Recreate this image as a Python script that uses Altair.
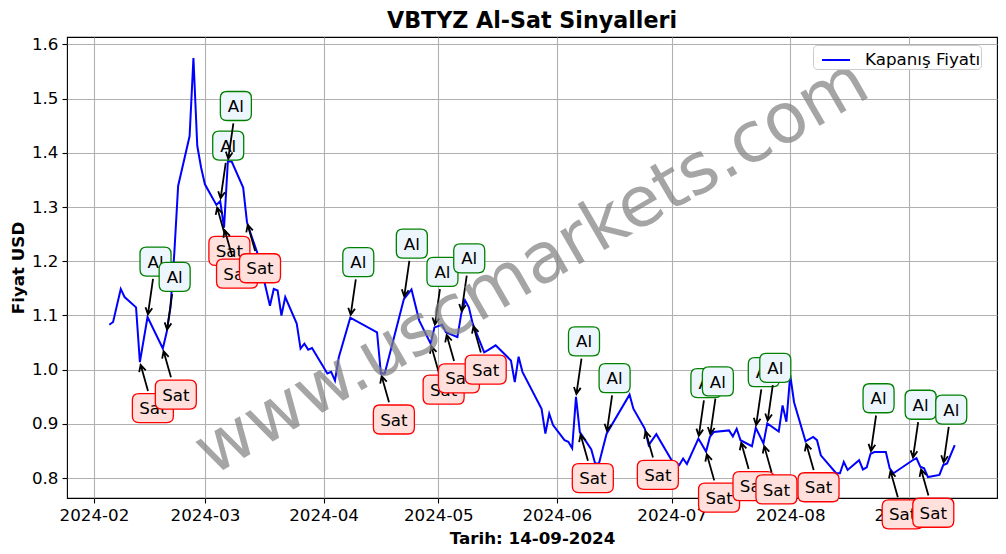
import math
import altair as alt
import pandas as pd

# ---------------- data ----------------
dates = [
    "2024-02-05", "2024-02-06", "2024-02-08", "2024-02-09", "2024-02-12", "2024-02-13",
    "2024-02-15", "2024-02-19", "2024-02-20", "2024-02-21", "2024-02-22", "2024-02-23",
    "2024-02-26", "2024-02-27", "2024-02-28", "2024-02-29",
    "2024-03-01", "2024-03-04", "2024-03-05", "2024-03-06", "2024-03-07", "2024-03-08",
    "2024-03-11", "2024-03-12", "2024-03-13", "2024-03-14", "2024-03-15", "2024-03-18",
    "2024-03-19", "2024-03-20", "2024-03-21", "2024-03-22", "2024-03-25", "2024-03-26",
    "2024-03-27", "2024-03-28", "2024-03-29",
    "2024-04-02", "2024-04-03", "2024-04-04", "2024-04-05", "2024-04-08", "2024-04-15",
    "2024-04-16", "2024-04-17", "2024-04-22", "2024-04-24", "2024-04-26", "2024-04-29",
    "2024-04-30",
    "2024-05-02", "2024-05-03", "2024-05-06", "2024-05-07", "2024-05-08", "2024-05-09",
    "2024-05-10", "2024-05-13", "2024-05-14", "2024-05-16", "2024-05-20", "2024-05-21",
    "2024-05-22", "2024-05-23", "2024-05-28", "2024-05-29", "2024-05-30", "2024-05-31",
    "2024-06-03", "2024-06-04", "2024-06-05", "2024-06-06", "2024-06-07", "2024-06-10",
    "2024-06-11", "2024-06-12", "2024-06-14", "2024-06-20", "2024-06-21", "2024-06-24",
    "2024-06-25", "2024-06-27",
    "2024-07-01", "2024-07-03", "2024-07-04", "2024-07-05", "2024-07-08", "2024-07-10",
    "2024-07-11", "2024-07-12", "2024-07-16", "2024-07-17", "2024-07-18", "2024-07-19",
    "2024-07-22", "2024-07-23", "2024-07-25", "2024-07-26", "2024-07-29", "2024-07-30",
    "2024-07-31",
    "2024-08-01", "2024-08-02", "2024-08-05", "2024-08-07", "2024-08-08", "2024-08-09",
    "2024-08-13", "2024-08-14", "2024-08-15", "2024-08-16", "2024-08-19", "2024-08-20",
    "2024-08-21", "2024-08-22", "2024-08-23", "2024-08-26", "2024-08-27", "2024-08-28",
    "2024-09-02", "2024-09-03", "2024-09-04", "2024-09-05", "2024-09-06", "2024-09-09",
    "2024-09-10", "2024-09-11", "2024-09-13",
]
closes = [
    1.083, 1.088, 1.149, 1.134, 1.115, 1.014,
    1.097, 1.039, 1.069, 1.115, 1.215, 1.339,
    1.431, 1.575, 1.413, 1.373,
    1.342, 1.304, 1.311, 1.262, 1.384, 1.384,
    1.336, 1.272, 1.250, 1.230, 1.209, 1.118,
    1.149, 1.146, 1.100, 1.134, 1.085, 1.039,
    1.048, 1.037, 1.040,
    0.993, 0.996, 0.980, 1.023, 1.096, 1.069,
    0.993, 0.993, 1.130, 1.148, 1.091, 1.048,
    1.078,
    1.083, 1.069, 1.060, 1.103, 1.128, 1.115,
    1.085, 1.032, 1.036, 1.045, 1.017, 0.977,
    1.024, 0.996, 0.928, 0.882, 0.919, 0.898,
    0.870, 0.867, 0.855, 0.950, 0.885, 0.853,
    0.827, 0.827, 0.882, 0.954, 0.928, 0.891,
    0.861, 0.881,
    0.833, 0.824, 0.836, 0.826, 0.873, 0.849,
    0.876, 0.885, 0.888, 0.877, 0.891, 0.870,
    0.859, 0.893, 0.864, 0.901, 0.886, 0.934,
    0.904,
    0.990, 0.940, 0.868, 0.876, 0.870, 0.842,
    0.809, 0.809, 0.830, 0.815, 0.833, 0.816,
    0.820, 0.845, 0.848, 0.848, 0.818, 0.809,
    0.833, 0.837, 0.821, 0.818, 0.802, 0.806,
    0.824, 0.827, 0.861,
]
assert len(dates) == len(closes)

al_dates = [
    "2024-02-15", "2024-02-20", "2024-03-05", "2024-03-07", "2024-04-08", "2024-04-22",
    "2024-04-30", "2024-05-07", "2024-06-06", "2024-06-14", "2024-07-08", "2024-07-11",
    "2024-07-23", "2024-07-26", "2024-08-22", "2024-09-02", "2024-09-10",
]
sat_dates = [
    "2024-02-13", "2024-02-19", "2024-03-04", "2024-03-06", "2024-03-12", "2024-04-16",
    "2024-04-29", "2024-05-03", "2024-05-10", "2024-06-07", "2024-06-24", "2024-07-10",
    "2024-07-19", "2024-07-25", "2024-08-05", "2024-08-27", "2024-09-04",
]

x_tick_dates = ["2024-02-01", "2024-03-01", "2024-04-01", "2024-05-01",
                "2024-06-01", "2024-07-01", "2024-08-01", "2024-09-01"]
y_ticks = [0.8, 0.9, 1.0, 1.1, 1.2, 1.3, 1.4, 1.5, 1.6]

title_text = ["VBTYZ Al-Sat Sinyalleri"]
x_title = "Tarih: 14-09-2024"
y_title = "Fiyat USD"
series_name = "Kapanış Fiyatı"
watermark = ["www.uscmarkets.com"]

# ---------------- tables ----------------
price = pd.DataFrame({"date": dates, "close": closes, "series": series_name})
lookup = dict(zip(dates, closes))
rows = [(d, lookup[d], "Al") for d in al_dates] + [(d, lookup[d], "Sat") for d in sat_dates]
sig = pd.DataFrame(rows, columns=["date", "close", "kind"]).sort_values("date").reset_index(drop=True)
sig["idx"] = range(len(sig))


def ms(s):
    return int(pd.Timestamp(s).value // 10**6)


# matplotlib-like 5% margins
t0, t1 = ms(min(dates)), ms(max(dates))
span = t1 - t0
x_dom = [t0 - 0.05 * span, t1 + 0.05 * span]
v0, v1 = min(closes), max(closes)
vspan = v1 - v0
y_dom = [v0 - 0.05 * vspan, v1 + 0.05 * vspan]

FONT = "DejaVu Sans"
FS = 16.7

xscale = alt.Scale(type="utc", domain=x_dom, nice=False)
yscale = alt.Scale(domain=y_dom, zero=False, nice=False)
xaxis = alt.Axis(values=[ms(d) for d in x_tick_dates],
                 labelExpr="utcFormat(datum.value, '%Y-%m')",
                 title=x_title, titleX=465, titleY=45, titleAlign="center",
                 titleBaseline="alphabetic", labelFlush=False, labelOverlap=False,
                 labelPadding=4)
yaxis = alt.Axis(values=y_ticks, format=".1f", title=y_title, titleX=-44, titleY=230.5,
                 titleAngle=270, titleAlign="center", titleBaseline="alphabetic",
                 labelPadding=4, labelOverlap=False)
X = alt.X("date:T", scale=xscale, axis=xaxis)
Y = alt.Y("close:Q", scale=yscale, axis=yaxis)

# ---------------- annotation geometry (pixel offsets from the point) ----------------
STYLE = {
    "Al": dict(cx=8.0, cy=-55.5, w=31.0, h=29.0, fill="#eef6fd", edge="green"),
    "Sat": dict(cx=13.0, cy=46.0, w=41.0, h=29.0, fill="#ffe0dc", edge="red"),
}


def f(v):
    return f"{v:.2f}"


def box_path(cx, cy, w, h, r=6.5):
    x0, x1, y0, y1 = cx - w / 2, cx + w / 2, cy - h / 2, cy + h / 2
    return (f"M{f(x0 + r)},{f(y0)} L{f(x1 - r)},{f(y0)} Q{f(x1)},{f(y0)} {f(x1)},{f(y0 + r)} "
            f"L{f(x1)},{f(y1 - r)} Q{f(x1)},{f(y1)} {f(x1 - r)},{f(y1)} "
            f"L{f(x0 + r)},{f(y1)} Q{f(x0)},{f(y1)} {f(x0)},{f(y1 - r)} "
            f"L{f(x0)},{f(y0 + r)} Q{f(x0)},{f(y0)} {f(x0 + r)},{f(y0)} Z")


def arrow_path(cx, cy, h, shrink=2.8, hl=6.7, hw=3.4):
    L = math.hypot(cx, cy)
    ux, uy = -cx / L, -cy / L
    t = (h / 2) / abs(uy)
    sx, sy = cx + ux * (t + shrink), cy + uy * (t + shrink)
    ex, ey = -ux * shrink, -uy * shrink
    bx, by = ex - ux * hl, ey - uy * hl
    px, py = -uy, ux
    w1 = (bx + px * hw, by + py * hw)
    w2 = (bx - px * hw, by - py * hw)
    return (f"M{f(sx)},{f(sy)} L{f(ex)},{f(ey)} "
            f"M{f(w1[0])},{f(w1[1])} L{f(ex)},{f(ey)} L{f(w2[0])},{f(w2[1])}")


# ---------------- layers ----------------
line = alt.Chart(price).mark_line(strokeWidth=2, clip=False).encode(
    x=X, y=Y,
    color=alt.Color("series:N", scale=alt.Scale(range=["#0000ff"]),
                    legend=alt.Legend(title=None, orient="none", legendX=746, legendY=8,
                                      symbolType="stroke", symbolSize=784, symbolStrokeWidth=2,
                                      symbolOffset=8, columnPadding=0,
                                      labelFont=FONT, labelFontSize=FS, labelColor="black",
                                      labelOffset=14, padding=0, fillColor="white",
                                      strokeColor="#cccccc", cornerRadius=4)),
)

layers = [line]
for i, kind in enumerate(sig["kind"]):
    s = STYLE[kind]
    base = alt.Chart(sig).transform_filter(alt.datum.idx == i)
    layers.append(base.mark_point(shape=arrow_path(s["cx"], s["cy"], s["h"]), size=4,
                                  filled=False, stroke="black", strokeWidth=1.8,
                                  opacity=1).encode(x=X, y=Y))
    layers.append(base.mark_point(shape=box_path(s["cx"], s["cy"], s["w"], s["h"]), size=4,
                                  filled=True, fill=s["fill"], stroke=s["edge"],
                                  strokeWidth=1.3, opacity=1).encode(x=X, y=Y))
    layers.append(base.mark_text(align="center", baseline="alphabetic", dx=s["cx"],
                                 dy=s["cy"] + 6.1, font=FONT, fontSize=FS,
                                 color="black").encode(x=X, y=Y, text="kind:N"))

wm = alt.Chart(pd.DataFrame({"t": watermark})).mark_text(
    angle=330, fontSize=70, font=FONT, color="#808080", opacity=0.7,
    align="center", baseline="middle",
).encode(x=alt.value(465), y=alt.value(230.5), text="t:N")
layers.append(wm)

ttl = alt.Chart(pd.DataFrame({"t": title_text})).mark_text(
    font=FONT, fontSize=22.2, fontWeight="bold", color="black",
    align="center", baseline="alphabetic",
).encode(x=alt.value(465), y=alt.value(-9), text="t:N")
layers.append(ttl)

chart = alt.layer(*layers).properties(
    width=930, height=461,
    padding={"left": 67, "top": 37, "right": 9, "bottom": 56},
    autosize="none",
    background="white",
).configure_view(
    stroke="black", strokeWidth=1.1,
).configure_axis(
    labelFont=FONT, labelFontSize=FS, labelColor="black",
    titleFont=FONT, titleFontSize=FS, titleFontWeight="bold", titleColor="black",
    tickColor="black", tickSize=5, tickWidth=1.1, domain=False,
    grid=True, gridColor="#b0b0b0", gridWidth=1.1,
)

chart.save("out.html", embed_options={"renderer": "svg", "actions": False})
